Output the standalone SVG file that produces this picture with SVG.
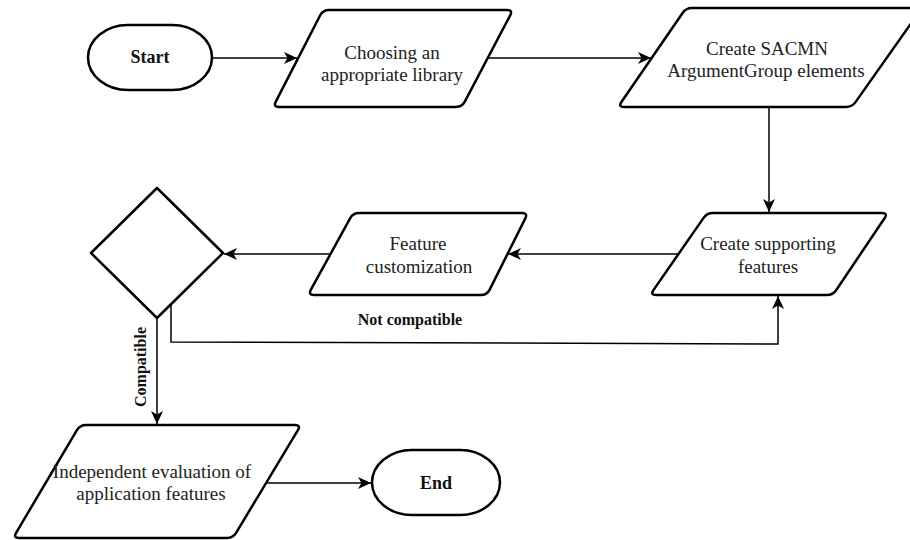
<svg xmlns="http://www.w3.org/2000/svg" width="910" height="540" viewBox="0 0 910 540">
<defs>
<marker id="arr" markerUnits="userSpaceOnUse" markerWidth="14" markerHeight="12" viewBox="0 0 14 12" refX="13" refY="6" orient="auto">
<path d="M0,0 L13,6 L0,12 L3.5,6 Z" fill="#000"/>
</marker>
<style>
.shape{fill:#fff;stroke:#000;stroke-width:2.5;stroke-linejoin:round}
.conn{fill:none;stroke:#000;stroke-width:1.5}
.t{font-family:"Liberation Serif","Times New Roman",serif;font-size:19px;fill:#222;text-anchor:middle}
.b{font-family:"Liberation Serif","Times New Roman",serif;font-weight:bold;fill:#111;text-anchor:middle}
</style>
</defs>
<rect width="910" height="540" fill="#fff"/>
<g id="connectors">
<path class="conn" d="M212,58 H297" marker-end="url(#arr)"/>
<path class="conn" d="M488,58 H651" marker-end="url(#arr)"/>
<path class="conn" d="M769,107 V212" marker-end="url(#arr)"/>
<path class="conn" d="M678,254 H508" marker-end="url(#arr)"/>
<path class="conn" d="M330,254 H224" marker-end="url(#arr)"/>
<path class="conn" d="M171,304 V342 L778,344 V296" marker-end="url(#arr)"/>
<path class="conn" d="M157,318 V424" marker-end="url(#arr)"/>
<path class="conn" d="M267,483 H371" marker-end="url(#arr)"/>
<text class="b" font-size="16" x="410" y="325">Not compatible</text>
<text class="b" font-size="16" transform="translate(146,367) rotate(-90)">Compatible</text>
</g>
<g id="start">
<rect class="shape" x="88" y="25" width="124" height="65" rx="40" ry="32.5"/>
<text class="b" font-size="18" x="150" y="63">Start</text>
</g>
<g id="choose-library">
<path class="shape" d="M329,10 H507 Q513,10 510.2,15.3 L464.8,101.7 Q462,107 456,107 H279 Q273,107 275.8,101.7 L320.2,15.3 Q323,10 329,10 Z"/>
<text class="t" x="392" y="59">Choosing an</text>
<text class="t" x="392" y="81">appropriate library</text>
</g>
<g id="create-sacmn">
<path class="shape" d="M692,8 H916 Q922,8 918.5,12.9 L855.5,102.1 Q852,107 846,107 H624 Q618,107 621.4,102 L682.6,13 Q686,8 692,8 Z"/>
<text class="t" x="767" y="55">Create SACMN</text>
<text class="t" x="766" y="77">ArgumentGroup elements</text>
</g>
<g id="create-supporting">
<path class="shape" d="M713,213 H882 Q888,213 884.7,218 L836.3,290 Q833,295 827,295 H656 Q650,295 653.4,290.1 L703.6,217.9 Q707,213 713,213 Z"/>
<text class="t" x="768" y="250">Create supporting</text>
<text class="t" x="768" y="273">features</text>
</g>
<g id="feature-customization">
<path class="shape" d="M359,213 H522 Q528,213 525.3,218.4 L489.7,289.6 Q487,295 481,295 H314 Q308,295 310.9,289.7 L350.1,218.3 Q353,213 359,213 Z"/>
<text class="t" x="418" y="250">Feature</text>
<text class="t" x="419" y="273">customization</text>
</g>
<g id="decision">
<path class="shape" d="M157,188 L223,253 L157,318 L91,253 Z" stroke-linejoin="miter"/>
</g>
<g id="independent-evaluation">
<path class="shape" d="M86,425 H295 Q301,425 297.9,430.1 L236.1,532.9 Q233,538 227,538 H19 Q13,538 16.1,532.8 L76.9,430.2 Q80,425 86,425 Z"/>
<text class="t" x="152" y="478">Independent evaluation of</text>
<text class="t" x="151" y="500">application features</text>
</g>
<g id="end">
<rect class="shape" x="372" y="450" width="128" height="65" rx="40" ry="32.5"/>
<text class="b" font-size="18" x="436" y="489">End</text>
</g>
</svg>
